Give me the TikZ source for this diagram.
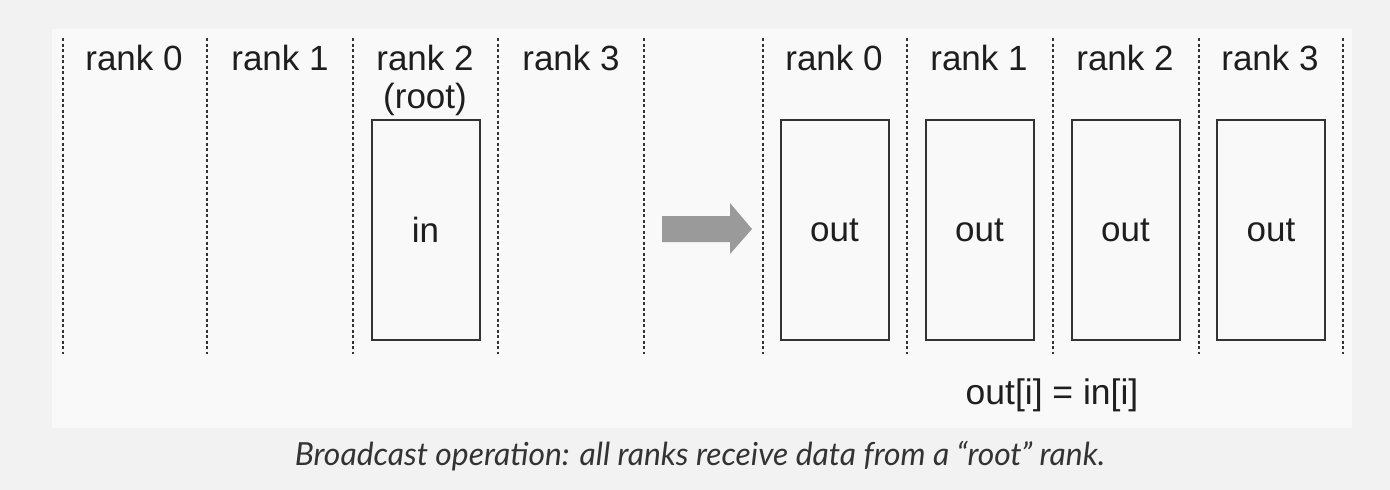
\documentclass[tikz,border=0pt]{standalone}
\usepackage{fontspec}
\setmainfont{Liberation Sans}
\newfontfamily\latofont{Lato}
\definecolor{outerbg}{HTML}{F2F2F2}
\definecolor{innerbg}{HTML}{F9F9F9}
\definecolor{ink}{HTML}{1E1E1E}
\definecolor{linec}{HTML}{333333}
\definecolor{arrowc}{HTML}{9A9A9A}
\definecolor{capc}{HTML}{333333}
\tikzset{
  sep/.style={draw=linec, line width=2pt, dash pattern=on 3pt off 2.5pt},
  buf/.style={draw=linec, line width=2pt, minimum width=108pt, minimum height=220pt, inner sep=0pt, font=\fontsize{35}{38}\selectfont, text=ink},
  lbl/.style={font=\fontsize{35}{38}\selectfont, text=ink, inner sep=0pt, align=center, anchor=north},
  bigarrow/.style={fill=arrowc, draw=none}
}
\begin{document}
\begin{tikzpicture}[x=1pt,y=-1pt]
\fill[outerbg] (0,0) rectangle (1390,490);
\useasboundingbox (0,0) rectangle (1390,490);
\fill[innerbg] (52,29) rectangle (1352,428);
% separators
\foreach \x/\n in {63/a,207/b,353/c,498/d,644/e,763/f,907/g,1053/h,1199/i,1343/j}{
  \coordinate (t\n) at (\x,38);
  \coordinate (b\n) at (\x,354);
  \draw[sep] (t\n) -- (b\n);
}
% labels left
\node[lbl] (l0) at (134,45) {rank 0};
\node[lbl] (l1) at (280,45) {rank 1};
\node[lbl] (l2) at (425,45) {rank 2\\[0pt](root)};
\node[lbl] (l3) at (571,45) {rank 3};
% labels right
\node[lbl] (r0) at (834,45) {rank 0};
\node[lbl] (r1) at (979,45) {rank 1};
\node[lbl] (r2) at (1125,45) {rank 2};
\node[lbl] (r3) at (1270,45) {rank 3};
% buffers
\node[buf] (in) at (425.5,230) {in};
\node[buf] (o0) at (834.5,230) {out};
\node[buf] (o1) at (979.5,230) {out};
\node[buf] (o2) at (1125.5,230) {out};
\node[buf] (o3) at (1271,230) {out};
% big arrow
\fill[bigarrow] (662,216) -- (730,216) -- (730,203) -- (752,229) -- (730,254) -- (730,242) -- (662,242) -- cycle;
% formula
\node[font=\fontsize{35.5}{38}\selectfont, text=ink, inner sep=0pt] (eq) at (1052,395) {out[i] = in[i]};
% caption
\node[font=\latofont\itshape\fontsize{31.8}{36}\selectfont, text=capc, inner sep=0pt] (cap) at (700,456) {Broadcast operation: all ranks receive data from a “root” rank.};
\end{tikzpicture}
\end{document}
